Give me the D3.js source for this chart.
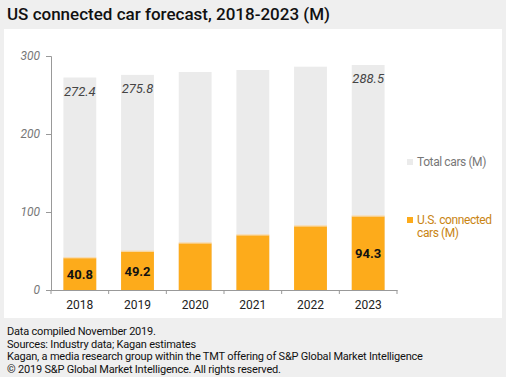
<!DOCTYPE html>
<html>
<head>
<meta charset="utf-8">
<script src="https://cdn.jsdelivr.net/npm/d3@7"></script>
<style>
  body { margin: 0; background: #efefef; }
  svg { display: block; font-family: Roboto, "Noto Sans", sans-serif; }
</style>
</head>
<body>
<svg id="chart" width="506" height="377"></svg>
<script>
var years = ['2018', '2019', '2020', '2021', '2022', '2023'];
var totalCars = [272.4, 275.8, 279.5, 282.0, 286.3, 288.5];
var connectedCars = [40.8, 49.2, 59.8, 70.1, 81.6, 94.3];
var totalLabels = ['272.4', '275.8', '', '', '', '288.5'];
var connectedLabels = ['40.8', '49.2', '', '', '', '94.3'];
var yTicks = [0, 100, 200, 300];

var margin = {top: 56, left: 51},
    axesWidth = 346, axesHeight = 234;

var svg = d3.select('#chart');

// white panel
svg.append('rect')
    .attr('x', 4).attr('y', 29)
    .attr('width', 498).attr('height', 289)
    .attr('fill', '#fff');

svg.append('text')
    .attr('x', 7).attr('y', 20)
    .attr('font-size', 17).attr('font-weight', 500)
    .attr('fill', '#111')
    .text('US connected car forecast, 2018-2023 (M)');

var g = svg.append('g')
    .attr('transform', `translate(${margin.left},${margin.top})`);

var x = d3.scaleBand()
    .domain(years)
    .range([0, axesWidth])
    .paddingInner(0.43)
    .paddingOuter(0.215);

var y = d3.scaleLinear()
    .domain([0, 300])
    .range([axesHeight, 0]);

// total bars (behind)
g.selectAll('.total')
    .data(years)
    .join('rect')
    .attr('x', d => x(d))
    .attr('y', (d, i) => y(totalCars[i]))
    .attr('width', x.bandwidth())
    .attr('height', (d, i) => axesHeight - y(totalCars[i]))
    .attr('fill', '#ebebeb');

// connected bars
g.selectAll('.conn')
    .data(years)
    .join('rect')
    .attr('x', d => x(d))
    .attr('y', (d, i) => y(connectedCars[i]))
    .attr('width', x.bandwidth())
    .attr('height', (d, i) => axesHeight - y(connectedCars[i]))
    .attr('fill', '#fdab1b');
g.selectAll('.connTop')
    .data(years)
    .join('line')
    .attr('x1', d => x(d)).attr('x2', d => x(d) + x.bandwidth())
    .attr('y1', (d, i) => y(connectedCars[i]) - 0.5)
    .attr('y2', (d, i) => y(connectedCars[i]) - 0.5)
    .attr('stroke', '#fbd9a6').attr('stroke-width', 1);

// value labels
g.selectAll('.tl')
    .data(years)
    .join('text')
    .attr('x', d => x(d) + x.bandwidth() / 2)
    .attr('y', (d, i) => y(totalCars[i]) + 18)
    .attr('text-anchor', 'middle')
    .attr('font-size', 13).attr('font-style', 'italic')
    .attr('fill', '#444')
    .text((d, i) => totalLabels[i]);

g.selectAll('.cl')
    .data(years)
    .join('text')
    .attr('x', d => x(d) + x.bandwidth() / 2)
    .attr('y', (d, i) => (y(connectedCars[i]) + axesHeight) / 2 + 5)
    .attr('text-anchor', 'middle')
    .attr('font-size', 13).attr('font-weight', 'bold')
    .attr('fill', '#111')
    .text((d, i) => connectedLabels[i]);

// axes
var xAxis = g.append('g')
    .attr('transform', `translate(0,${axesHeight})`)
    .call(d3.axisBottom(x).tickSize(0).tickPadding(10));
xAxis.select('.domain').attr('stroke', '#999');
xAxis.selectAll('text').attr('font-size', 12).attr('fill', '#222')
    .attr('font-family', 'Roboto, sans-serif');
xAxis.selectAll('.sep')
    .data(d3.range(years.length + 1))
    .join('line')
    .attr('x1', i => i * x.step()).attr('x2', i => i * x.step())
    .attr('y1', 0).attr('y2', 4)
    .attr('stroke', '#999');

var yAxis = g.append('g')
    .call(d3.axisLeft(y).tickValues(yTicks).tickSize(5).tickPadding(6));
yAxis.select('.domain').attr('stroke', '#999');
yAxis.selectAll('line').attr('stroke', '#999');
yAxis.selectAll('text').attr('font-size', 12).attr('font-style', 'italic')
    .attr('fill', '#777').attr('font-family', 'Roboto, sans-serif');

// legend
var legendItems = [
    {lines: ['Total cars (M)'], color: '#ebebeb', text: '#777', y: 162},
    {lines: ['U.S. connected', 'cars (M)'], color: '#fdab1b', text: '#c98412', y: 220}
];
var leg = svg.selectAll('.leg')
    .data(legendItems)
    .join('g');
leg.append('rect')
    .attr('x', 407).attr('y', d => d.y - 3)
    .attr('width', 6).attr('height', 6)
    .attr('fill', d => d.color);
leg.append('text')
    .attr('x', 417).attr('y', d => d.y + 4)
    .attr('font-size', 12).attr('letter-spacing', -0.4)
    .attr('fill', d => d.text)
    .selectAll('tspan')
    .data(d => d.lines)
    .join('tspan')
    .attr('x', 417)
    .attr('dy', (d, i) => i ? 13 : 0)
    .text(d => d);

// footer
var notes = [
    'Data compiled November 2019.',
    'Sources: Industry data; Kagan estimates',
    'Kagan, a media research group within the TMT offering of S&P Global Market Intelligence',
    '\u00a9 2019 S&P Global Market Intelligence. All rights reserved.'
];
svg.selectAll('.note')
    .data(notes)
    .join('text')
    .attr('x', 7)
    .attr('y', (d, i) => 335 + i * 12.5)
    .attr('font-size', 11).attr('letter-spacing', -0.2)
    .attr('fill', '#111')
    .text(d => d);
</script>
</body>
</html>
